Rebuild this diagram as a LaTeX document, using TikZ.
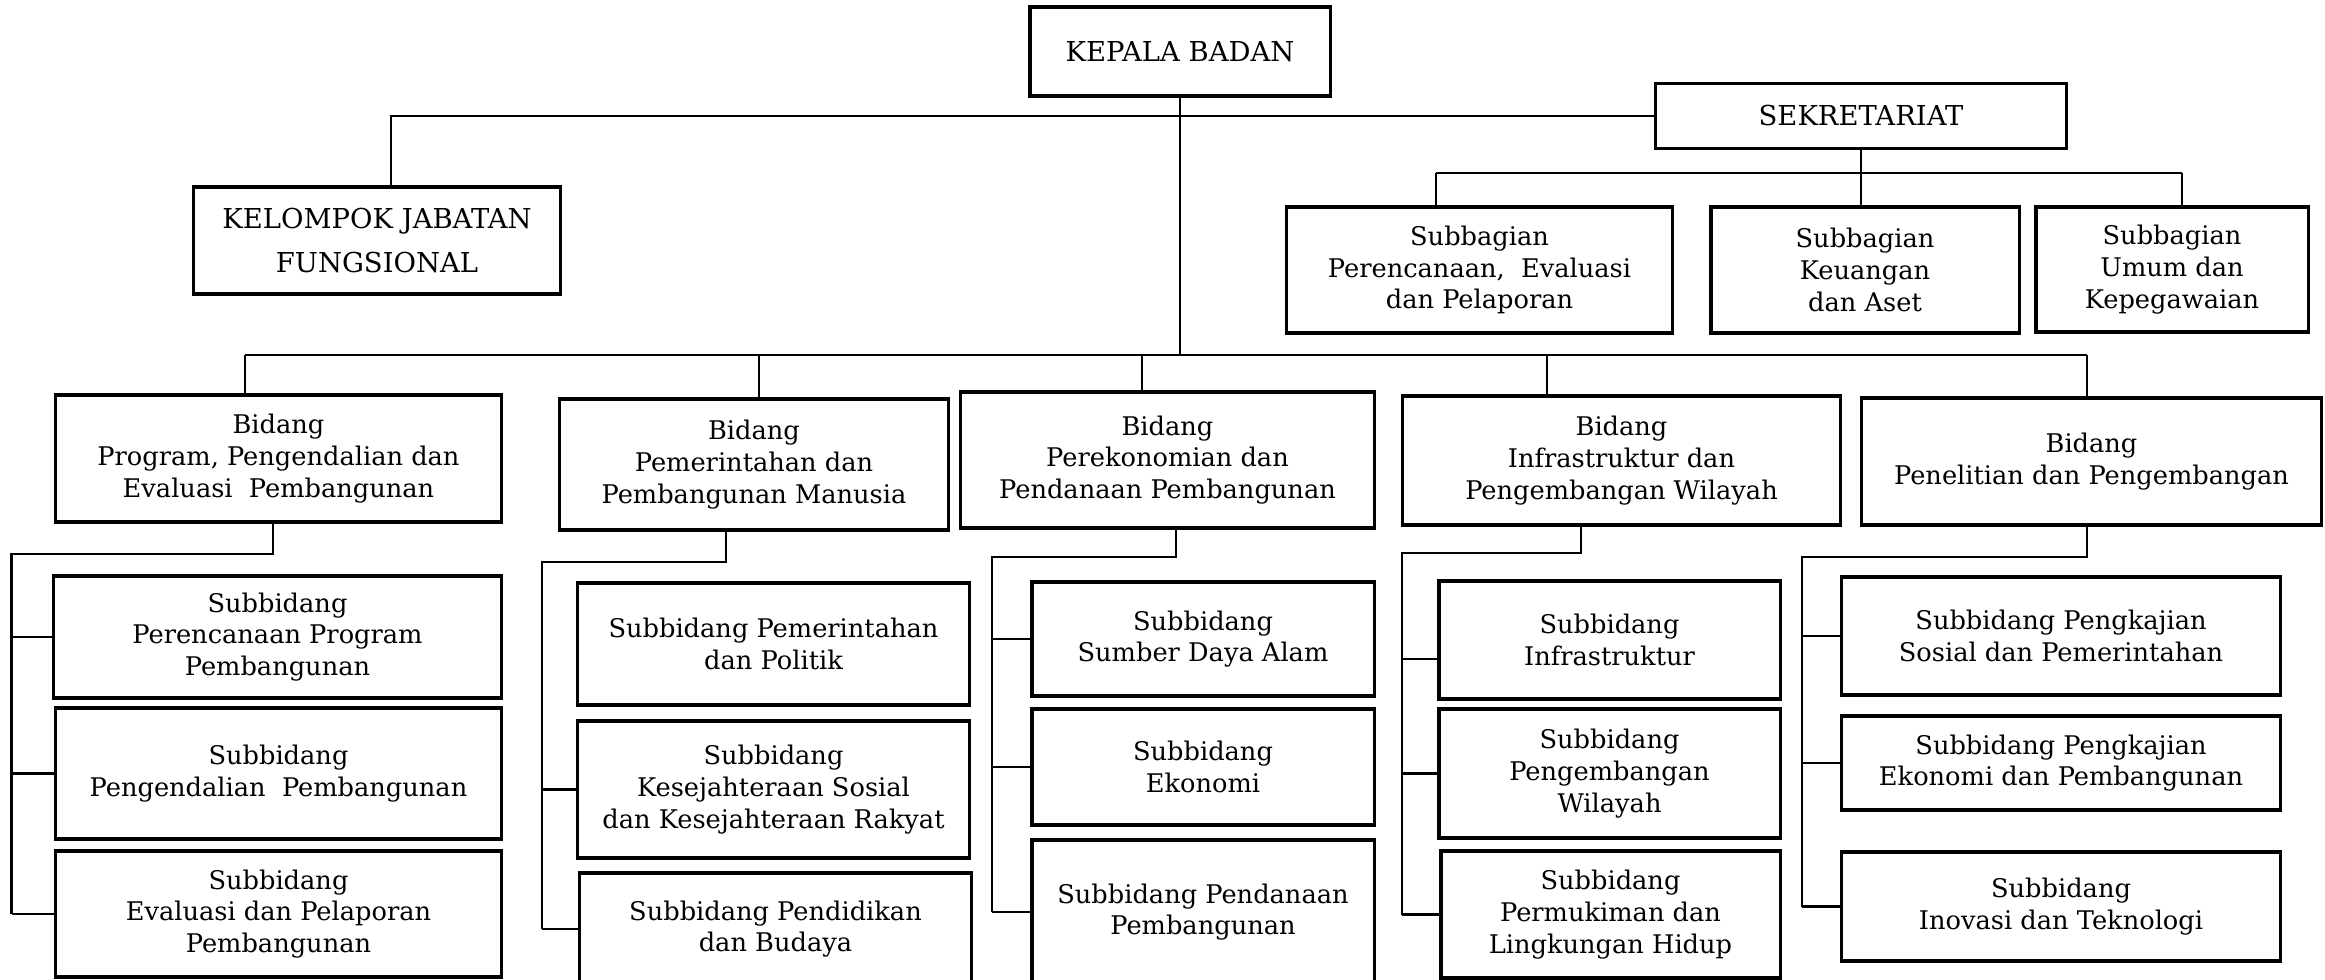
\documentclass[tikz,border=0pt]{standalone}
\usepackage{fontspec}
\setmainfont{DejaVu Serif}
\tikzset{
  unit/.style={draw,line width=0.9pt,align=center,inner sep=2pt,
    font=\fontsize{7.3}{9}\selectfont},
  head/.style={unit,font=\fontsize{7.8}{9.4}\selectfont},
  link/.style={line width=0.6pt},
}
\begin{document}
\begin{tikzpicture}[x=0.01cm,y=-0.01cm]
\useasboundingbox (0,0) rectangle (2325,980);
\clip (0,0) rectangle (2325,980);
% pimpinan dan sekretariat
\node[head,minimum width=3cm,minimum height=0.89cm] (kepala) at (1180,51.5) {KEPALA BADAN};
\node[head,minimum width=3.66cm,minimum height=1.07cm] (kjf) at (377,240.5) {KELOMPOK JABATAN\\[3pt]FUNGSIONAL};
\node[head,minimum width=4.1cm,minimum height=0.65cm] (sek) at (1861,116) {SEKRETARIAT};
\node[unit,minimum width=3.85cm,minimum height=1.26cm] (sb1) at (1479.5,270) {Subbagian\\Perencanaan,\ \ Evaluasi\\dan Pelaporan};
\node[unit,minimum width=3.08cm,minimum height=1.26cm] (sb2) at (1865,270) {Subbagian\\Keuangan\\dan Aset};
\node[unit,minimum width=2.72cm,minimum height=1.25cm] (sb3) at (2172,269.5) {Subbagian\\Umum dan\\Kepegawaian};
% bidang
\node[unit,minimum width=4.45cm,minimum height=1.27cm] (b1) at (278.5,458.5) {Bidang\\Program, Pengendalian dan\\Evaluasi\ \ Pembangunan};
\node[unit,minimum width=3.88cm,minimum height=1.31cm] (b2) at (754,464.5) {Bidang\\Pemerintahan dan\\Pembangunan Manusia};
\node[unit,minimum width=4.13cm,minimum height=1.36cm] (b3) at (1167.5,460) {Bidang\\Perekonomian dan\\Pendanaan Pembangunan};
\node[unit,minimum width=4.37cm,minimum height=1.29cm] (b4) at (1621.5,460.5) {Bidang\\Infrastruktur dan\\Pengembangan Wilayah};
\node[unit,minimum width=4.59cm,minimum height=1.27cm] (b5) at (2091.5,461.5) {Bidang\\Penelitian dan Pengembangan};
% subbidang
\node[unit,minimum width=4.47cm,minimum height=1.22cm] (s11) at (277.5,637) {Subbidang\\Perencanaan Program\\Pembangunan};
\node[unit,minimum width=4.45cm,minimum height=1.31cm] (s12) at (278.5,773.5) {Subbidang\\Pengendalian\ \ Pembangunan};
\node[unit,minimum width=4.45cm,minimum height=1.26cm] (s13) at (278.5,914) {Subbidang\\Evaluasi dan Pelaporan\\Pembangunan};
\node[unit,minimum width=3.91cm,minimum height=1.22cm] (s21) at (773.5,644) {Subbidang Pemerintahan\\dan Politik};
\node[unit,minimum width=3.91cm,minimum height=1.37cm] (s22) at (773.5,789.5) {Subbidang\\Kesejahteraan Sosial\\dan Kesejahteraan Rakyat};
\node[unit,minimum width=3.91cm,minimum height=1.12cm] (s23) at (775.5,929) {Subbidang Pendidikan\\dan Budaya};
\node[unit,minimum width=3.42cm,minimum height=1.14cm] (s31) at (1203,639) {Subbidang\\Sumber Daya Alam};
\node[unit,minimum width=3.42cm,minimum height=1.16cm] (s32) at (1203,767) {Subbidang\\Ekonomi};
\node[unit,minimum width=3.42cm,minimum height=1.44cm] (s33) at (1203,912) {Subbidang Pendanaan\\Pembangunan};
\node[unit,minimum width=3.41cm,minimum height=1.18cm] (s41) at (1609.5,640) {Subbidang\\Infrastruktur};
\node[unit,minimum width=3.41cm,minimum height=1.29cm] (s42) at (1609.5,773.5) {Subbidang\\Pengembangan\\Wilayah};
\node[unit,minimum width=3.39cm,minimum height=1.27cm] (s43) at (1610.5,914.5) {Subbidang\\Permukiman dan\\Lingkungan Hidup};
\node[unit,minimum width=4.38cm,minimum height=1.18cm] (s51) at (2061,636) {Subbidang Pengkajian\\Sosial dan Pemerintahan};
\node[unit,minimum width=4.38cm,minimum height=0.94cm] (s52) at (2061,763) {Subbidang Pengkajian\\Ekonomi dan Pembangunan};
\node[unit,minimum width=4.38cm,minimum height=1.09cm] (s53) at (2061,906.5) {Subbidang\\Inovasi dan Teknologi};
% garis komando
\coordinate (kn) at ([xshift=0.14cm]kjf.north);
\draw[link] (sek.west) -| (kn);
\draw[link] (sek.south) -- (sek.south |- sb2.north);
\coordinate (k1) at (1436,173);
\coordinate (k3) at (2182,173);
\draw[link] (k1) -- (k3);
\draw[link] (k1) -- (k1 |- sb1.north);
\draw[link] (k3) -- (k3 |- sb3.north);
\foreach \i/\x in {1/245,2/759,3/1142,4/1547,5/2087}{
  \coordinate (j\i) at (\x,355);
  \draw[link] (j\i) -- (j\i |- b\i.north);
}
\draw[link] (j1) -- (j5);
\draw[link] (kepala.south) -- (kepala.south |- j1);
\foreach \i/\d/\y/\sx in {1/273/554/11.5,2/726/562/542,3/1176/557/992,4/1581/553/1402,5/2087/557/1802}{
  \coordinate (t\i) at (\d,\y);
  \coordinate (sp\i) at (\sx,\y);
  \draw[link] (t\i |- b\i.south) -- (t\i) -- (sp\i) -- (sp\i |- s\i3.west);
}
\foreach \i/\s in {1/s11,1/s12,1/s13,2/s22,2/s23,3/s31,3/s32,3/s33,4/s42,4/s43,5/s51,5/s52,5/s53}
  \draw[link] (sp\i |- \s.west) -- (\s.west);
\coordinate (c41) at ([yshift=-0.19cm]s41.west);
\draw[link] (sp4 |- c41) -- (c41);
\end{tikzpicture}
\end{document}
